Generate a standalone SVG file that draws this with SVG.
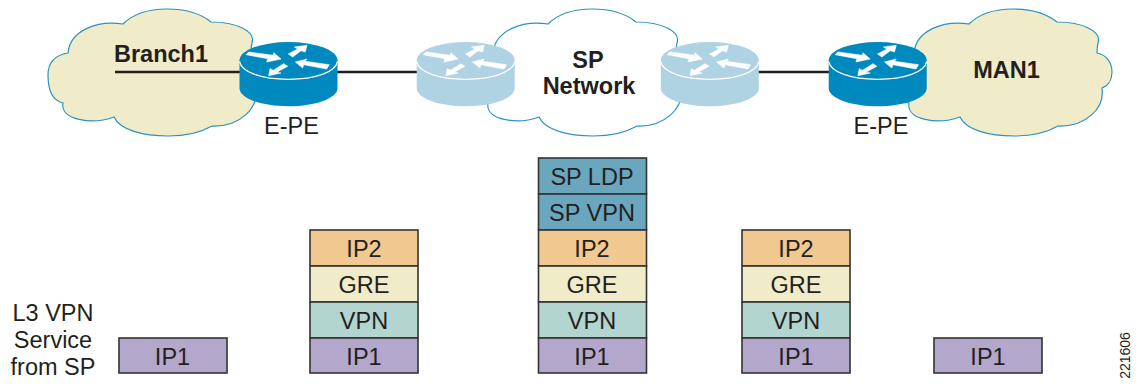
<svg xmlns="http://www.w3.org/2000/svg" xmlns:xlink="http://www.w3.org/1999/xlink" width="1144" height="385" viewBox="0 0 1144 385">
<style>
text{font-family:"Liberation Sans",Arial,sans-serif;font-size:23.500px;fill:#231f20;text-anchor:middle}
.b{font-weight:700}
.cy{stroke:#2a93c1;stroke-width:1.2}
.t{fill:#f0ebc8}.w{fill:#fff}
.link{stroke:#231f20;stroke-width:2.500;fill:none}
.cell{stroke:#333;stroke-width:1.600}
.ip1{fill:#b3a7cc}.vpn{fill:#b3d5cf}.gre{fill:#f0ebc8}.ip2{fill:#f0c890}.sp{fill:#6ba6bf}
.dk{fill:#0089bf}.lt{fill:#b0d3e4}
.ar{fill:#fff;stroke:#fff;stroke-width:.6}
.rim{fill:none;stroke:#fff;stroke-width:1.200}
</style>
<defs>
<path id="cloud" d="M123,24C134,13 150,9 167,9C185,9 200,13 211,22C236,22 256,31 252,43C251,47 251,50 251,53C261,55 266,63 266,72C266,80 262,86 256,88C259,108 240,127 212,126C200,133 185,136 168,136C143,136 120,130 114,117C92,125 60,120 63,103C50,100 48,85 48,75C48,62 56,55 68,53C70,30 98,20 123,24Z"/>
<g id="arrows">
<polygon class="ar" points="-42.5,-5.6 -39.8,-8.3 -15.2,-5 -14.8,-7.6 -7.5,-1.3 -21.8,1.7 -20.8,-1.6"/>
<polygon class="ar" points="18.5,-15 5.8,-13.3 9.2,-11.3 -0.2,-6.3 4.2,-3.3 12.5,-9.6 16.8,-8.3"/>
<polygon class="ar" points="6.8,1.7 18.5,-1.3 16.8,1 40.8,4.4 38.2,8.7 15.2,4.4 14.2,7.7"/>
<polygon class="ar" points="-19.8,15.4 -18.5,8.4 -15.2,10 -4.8,3.4 -0.8,6 -11.8,12 -7.5,12.7"/>
</g>
<path id="rbody" d="M-49,0V28C-49,38 -27,46 0,46C27,46 49,38 49,28V0Z"/>
<ellipse id="rtop" cx="0" cy="0" rx="49" ry="18.3"/>
<path id="rrim" class="rim" d="M-49,1C-47,12 -27,19 0,19C27,19 47,12 49,1"/>
</defs>
<g id="cloud-branch1"><use xlink:href="#cloud" href="#cloud" class="t cy"/></g>
<g id="cloud-sp"><use xlink:href="#cloud" href="#cloud" x="425" class="w cy"/></g>
<g id="cloud-man1"><use xlink:href="#cloud" href="#cloud" x="846" class="t cy"/></g>
<g id="connectors">
<path class="link" d="M115,72H241M337,72H417M758,72H830"/>
</g>
<text class="b" x="161" y="62">Branch1</text>
<text class="b" x="588" y="68">SP</text>
<text class="b" x="589" y="94">Network</text>
<text class="b" x="1006.500" y="78">MAN1</text>
<g id="router-pe1" transform="translate(288.500,60.300)"><use href="#rbody" class="dk"/><use href="#rtop" class="dk"/><use href="#rrim"/><use href="#arrows"/></g>
<g id="router-sp1" transform="translate(465.700,60.300)"><use href="#rbody" class="lt"/><use href="#rtop" class="lt"/><use href="#rrim"/><use href="#arrows"/></g>
<g id="router-sp2" transform="translate(709.800,60.300)"><use href="#rbody" class="lt"/><use href="#rtop" class="lt"/><use href="#rrim"/><use href="#arrows"/></g>
<g id="router-pe2" transform="translate(877.700,60.300)"><use href="#rbody" class="dk"/><use href="#rtop" class="dk"/><use href="#rrim"/><use href="#arrows"/></g>
<text x="291.500" y="134">E-PE</text>
<text x="881" y="134">E-PE</text>
<text x="53" y="321">L3 VPN</text>
<text x="53" y="348">Service</text>
<text x="53" y="375">from SP</text>
<g id="stack1"><rect class="cell ip1" x="119" y="338" width="108" height="35"/><text x="172.500" y="365">IP1</text></g>
<g id="stack2">
<rect class="cell ip2" x="310" y="230" width="108" height="36"/><text x="364" y="257">IP2</text>
<rect class="cell gre" x="310" y="266" width="108" height="36"/><text x="364" y="293">GRE</text>
<rect class="cell vpn" x="310" y="302" width="108" height="36"/><text x="364" y="329">VPN</text>
<rect class="cell ip1" x="310" y="338" width="108" height="35"/><text x="364" y="365">IP1</text>
</g>
<g id="stack3">
<rect class="cell sp" x="538.500" y="158" width="108" height="36"/><text x="592" y="185">SP LDP</text>
<rect class="cell sp" x="538.500" y="194" width="108" height="36"/><text x="592" y="221">SP VPN</text>
<rect class="cell ip2" x="538.500" y="230" width="108" height="36"/><text x="592" y="257">IP2</text>
<rect class="cell gre" x="538.500" y="266" width="108" height="36"/><text x="592" y="293">GRE</text>
<rect class="cell vpn" x="538.500" y="302" width="108" height="36"/><text x="592" y="329">VPN</text>
<rect class="cell ip1" x="538.500" y="338" width="108" height="35"/><text x="592" y="365">IP1</text>
</g>
<g id="stack4">
<rect class="cell ip2" x="742" y="230" width="108" height="36"/><text x="796" y="257">IP2</text>
<rect class="cell gre" x="742" y="266" width="108" height="36"/><text x="796" y="293">GRE</text>
<rect class="cell vpn" x="742" y="302" width="108" height="36"/><text x="796" y="329">VPN</text>
<rect class="cell ip1" x="742" y="338" width="108" height="35"/><text x="796" y="365">IP1</text>
</g>
<g id="stack5"><rect class="cell ip1" x="934" y="338" width="108" height="35"/><text x="988" y="365">IP1</text></g>
<text transform="translate(1130,355.500) rotate(-90)" style="font-size:14px">221606</text>
</svg>
